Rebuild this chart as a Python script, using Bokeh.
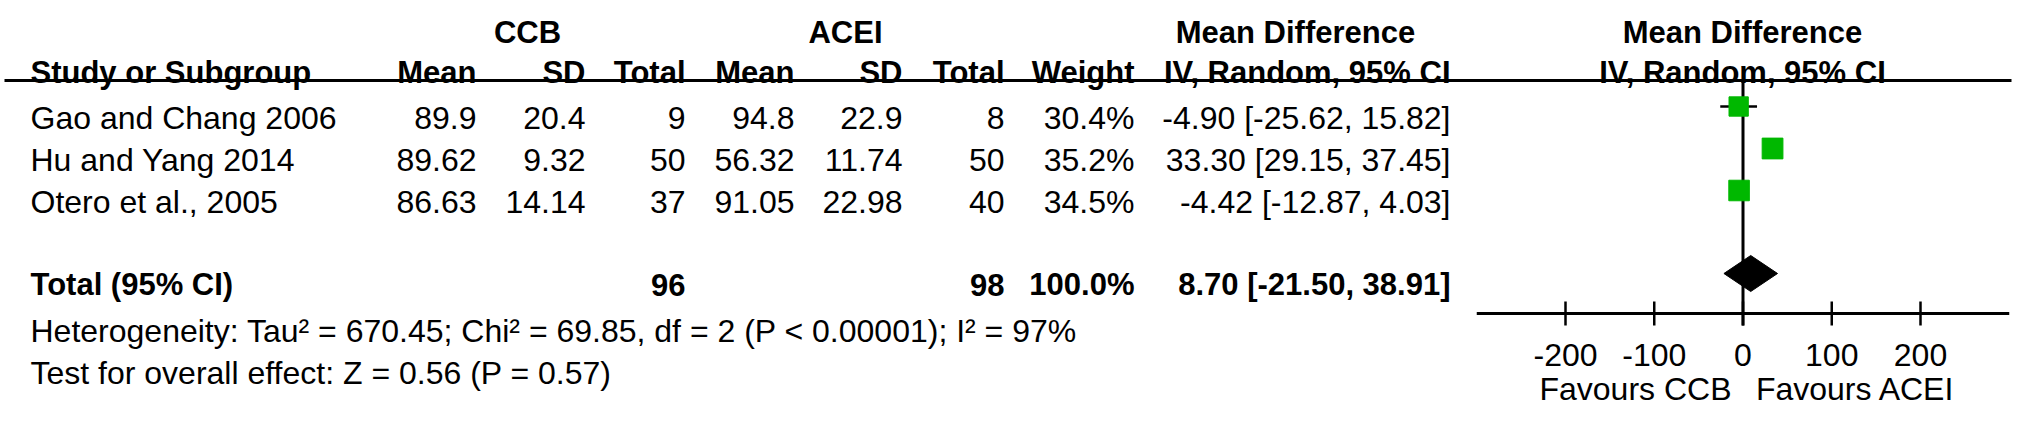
from bokeh.plotting import figure
from bokeh.models import Range1d, ColumnDataSource
from bokeh.core.properties import value
from bokeh.embed import file_html
from bokeh.resources import INLINE

# ---------------- data ----------------
studies = ["Gao and Chang 2006", "Hu and Yang 2014", "Otero et al., 2005"]
ccb_mean = [89.9, 89.62, 86.63]
ccb_sd = [20.4, 9.32, 14.14]
ccb_n = [9, 50, 37]
acei_mean = [94.8, 56.32, 91.05]
acei_sd = [22.9, 11.74, 22.98]
acei_n = [8, 50, 40]
weight = [30.4, 35.2, 34.5]
md = [-4.90, 33.30, -4.42]
ci_lo = [-25.62, 29.15, -12.87]
ci_hi = [15.82, 37.45, 4.03]

total_ccb_n = 96
total_acei_n = 98
total_weight = 100.0
total_md = 8.70
total_lo = -21.50
total_hi = 38.91

heterogeneity = "Heterogeneity: Tau\u00b2 = 670.45; Chi\u00b2 = 69.85, df = 2 (P < 0.00001); I\u00b2 = 97%"
overall = "Test for overall effect: Z = 0.56 (P = 0.57)"
group1 = "CCB"
group2 = "ACEI"
favours_left = "Favours CCB"
favours_right = "Favours ACEI"
tick_values = [-200, -100, 0, 100, 200]
axis_limits = [-300, 300]

# ---------------- layout ----------------
W, H = 2015, 406
X0, Y0 = 8, 8
FONT = value("Liberation Sans")
FS_REG = "32px"
FS_BOLD = "31px"
ZERO_PX = 1750.5
PX_PER_UNIT = 0.8875

p = figure(width=W, height=H, output_backend="svg", toolbar_location=None,
           x_range=Range1d(X0, X0 + W), y_range=Range1d(Y0 + H, Y0),
           x_axis_type=None, y_axis_type=None, min_border=0,
           outline_line_color=None, background_fill_color="white")
p.grid.visible = False
p.extra_x_ranges = {"md": Range1d(start=(X0 - ZERO_PX) / PX_PER_UNIT,
                                   end=(X0 + W - ZERO_PX) / PX_PER_UNIT)}


def txt(x, y, t, align="left", bold=False, range_name="default"):
    src = ColumnDataSource(dict(x=list(x), y=list(y), t=list(t)))
    p.text(x="x", y="y", text="t", source=src, text_align=align,
           text_baseline="alphabetic", text_font=FONT,
           text_font_size=FS_BOLD if bold else FS_REG,
           text_font_style="bold" if bold else "normal", text_color="black",
           x_range_name=range_name)


# columns (right edges)
COL_STUDY = 38
COL_R = [484, 593, 693, 802, 910, 1012, 1142, 1458]
HDR1_Y, HDR2_Y = 40, 80
ROW_BASE, ROW_STEP = 125, 42
TOTAL_Y = 292
HET_Y, TEST_Y = 338, 380
LINE_Y = 88
AXIS_Y = 321
CAP_MID = 11  # baseline -> middle of capitals

n = len(studies)
row_y = [ROW_BASE + i * ROW_STEP for i in range(n)]

# headers
txt([535, 853, 1303, 1750], [HDR1_Y] * 4, [group1, group2, "Mean Difference", "Mean Difference"],
    align="center", bold=True)
txt([COL_STUDY], [HDR2_Y], ["Study or Subgroup"], bold=True)
txt(COL_R, [HDR2_Y] * 8, ["Mean", "SD", "Total", "Mean", "SD", "Total", "Weight", "IV, Random, 95% CI"],
    align="right", bold=True)
txt([1750], [HDR2_Y], ["IV, Random, 95% CI"], align="center", bold=True)

# study rows
txt([COL_STUDY] * n, row_y, studies)
cols = [
    [str(v) for v in ccb_mean],
    [str(v) for v in ccb_sd],
    [str(v) for v in ccb_n],
    [str(v) for v in acei_mean],
    [str(v) for v in acei_sd],
    [str(v) for v in acei_n],
    [f"{v:.1f}%" for v in weight],
    [f"{m:.2f} [{l:.2f}, {h:.2f}]" for m, l, h in zip(md, ci_lo, ci_hi)],
]
for cx, vals in zip(COL_R, cols):
    txt([cx] * n, row_y, vals, align="right")

# total row
txt([COL_STUDY], [TOTAL_Y], ["Total (95% CI)"], bold=True)
txt([COL_R[2], COL_R[5], COL_R[6], COL_R[7]], [TOTAL_Y] * 4,
    [str(total_ccb_n), str(total_acei_n), f"{total_weight:.1f}%",
     f"{total_md:.2f} [{total_lo:.2f}, {total_hi:.2f}]"], align="right", bold=True)

txt([COL_STUDY], [HET_Y], [heterogeneity])
txt([COL_STUDY], [TEST_Y], [overall])

# header rule
p.segment(x0=[12], x1=[2019], y0=[LINE_Y], y1=[LINE_Y], line_color="black", line_width=3)

# ---------------- forest plot ----------------
mark_y = [y - CAP_MID for y in row_y]
# zero line
p.segment(x0=[0], x1=[0], y0=[LINE_Y], y1=[AXIS_Y + 12], line_color="black", line_width=3,
          x_range_name="md")
# axis
p.segment(x0=[axis_limits[0]], x1=[axis_limits[1]], y0=[AXIS_Y], y1=[AXIS_Y],
          line_color="black", line_width=3, x_range_name="md")
p.segment(x0=tick_values, x1=tick_values, y0=[AXIS_Y - 12] * 5, y1=[AXIS_Y + 12] * 5,
          line_color="black", line_width=2.5, x_range_name="md")
txt(tick_values, [362] * len(tick_values), [str(t) for t in tick_values], align="center",
    range_name="md")
txt([1643, 1863], [396, 396], [favours_left, favours_right], align="center")

# CI whiskers and squares
fsrc = ColumnDataSource(dict(md=md, lo=ci_lo, hi=ci_hi, y=mark_y,
                             size=[3.5 * (w ** 0.5) for w in weight]))
p.segment(x0="lo", x1="hi", y0="y", y1="y", source=fsrc, line_color="black",
          line_width=2.5, x_range_name="md")
p.scatter(x="md", y="y", size="size", marker="square", source=fsrc, fill_color="#00b800",
          line_color="#00b800", x_range_name="md")

# diamond
dy = TOTAL_Y - CAP_MID
p.patch(x=[total_lo, total_md, total_hi, total_md], y=[dy, dy - 18, dy, dy + 18],
        fill_color="black", line_color="black", x_range_name="md")

open("out.html", "w").write(file_html(p, INLINE))
